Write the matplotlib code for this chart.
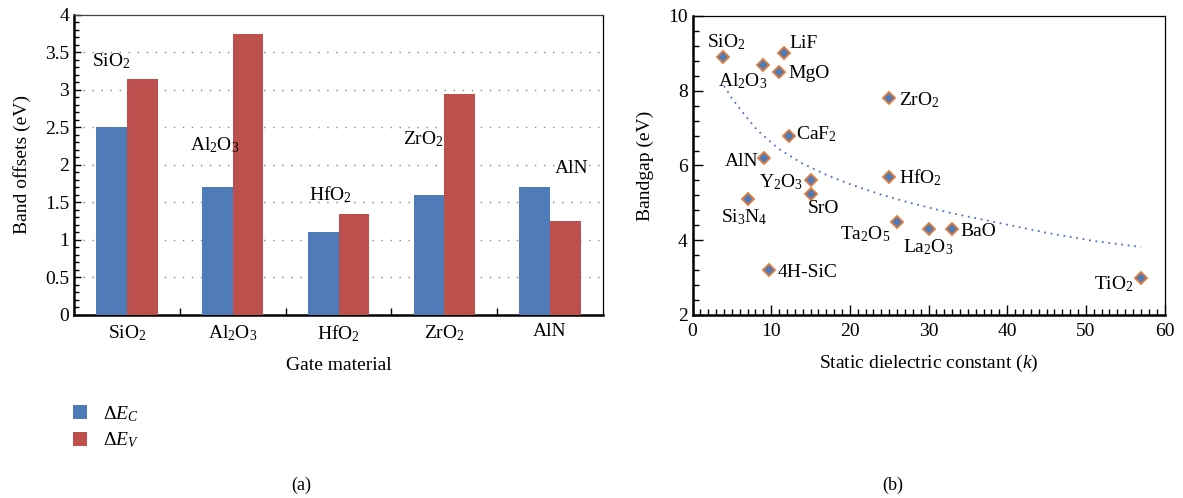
import matplotlib
matplotlib.use('Agg')
import matplotlib.pyplot as plt
from matplotlib.ticker import MultipleLocator, FixedLocator, FormatStrFormatter
import numpy as np

plt.rcParams['font.family'] = ['Liberation Serif', 'DejaVu Serif']
plt.rcParams['mathtext.fontset'] = 'custom'
plt.rcParams['mathtext.rm'] = 'Liberation Serif'
plt.rcParams['mathtext.it'] = 'Liberation Serif:italic'
plt.rcParams['font.size'] = 14

FS = 14

# (a) band offsets
mats = [r'SiO$_2$', r'Al$_2$O$_3$', r'HfO$_2$', r'ZrO$_2$', 'AlN']
dEc = [2.50, 1.70, 1.10, 1.60, 1.70]
dEv = [3.15, 3.75, 1.35, 2.95, 1.25]
# label positions (category units, eV baseline)
lab_a_x = [-0.33, 0.60, 1.72, 2.61, 4.04]
lab_a_y = [3.31, 2.20, 1.53, 2.28, 1.89]

# (b) bandgap vs k
names = [r'SiO$_2$', r'Al$_2$O$_3$', 'LiF', 'MgO', r'ZrO$_2$', r'CaF$_2$', 'AlN',
         r'HfO$_2$', r'Y$_2$O$_3$', 'SrO', r'Si$_3$N$_4$', r'Ta$_2$O$_5$',
         r'La$_2$O$_3$', 'BaO', '4H-SiC', r'TiO$_2$']
kval = [3.9, 9.0, 11.6, 11.0, 25.0, 12.3, 9.1, 25.0, 15.0, 15.0, 7.0, 26.0,
        30.0, 33.0, 9.7, 57.0]
gap = [8.9, 8.7, 9.0, 8.5, 7.8, 6.8, 6.2, 5.7, 5.6, 5.25, 5.1, 4.5,
       4.3, 4.3, 3.2, 3.0]
# label anchor (k, eV baseline, alignment)
lab_b_x = [1.9, 3.2, 12.3, 12.2, 26.2, 13.2, 8.35, 26.2, 14.05, 14.7, 3.65,
           18.7, 26.8, 34.1, 10.85, 56.1]
lab_b_y = [9.15, 8.13, 9.15, 8.33, 7.62, 6.71, 5.99, 5.52, 5.41, 4.72, 4.47,
           4.02, 3.69, 4.11, 3.02, 2.69]
lab_b_ha = ['left', 'left', 'left', 'left', 'left', 'left', 'right', 'left',
            'right', 'left', 'left', 'left', 'left', 'left', 'left', 'right']

# dotted trend line
fit_k = [4, 5, 6.3, 8.2, 10.9, 14, 17, 20, 24, 28, 33, 39, 45, 51, 57]
fit_g = [8.13, 7.8, 7.44, 6.95, 6.45, 6.05, 5.75, 5.5, 5.22, 4.98, 4.72,
         4.46, 4.2, 3.98, 3.82]

blue = '#4f7cb8'
red = '#bd4f4c'

fig = plt.figure(figsize=(11.83, 4.98), dpi=100)
ax1 = fig.add_axes([0.0626, 0.3675, 0.4471, 0.6024])
ax2 = fig.add_axes([0.5854, 0.3675, 0.3990, 0.6004])

# ---- panel (a)
x = np.arange(len(mats))
w = 0.29
b1 = ax1.bar(x - w, dEc, w, align='edge', color=blue, zorder=3, label=r'$\Delta E_C$')
b2 = ax1.bar(x, dEv, w, align='edge', color=red, zorder=3, label=r'$\Delta E_V$')
ax1.set_xlim(-0.5, 4.5)
ax1.set_ylim(0, 4)
ax1.yaxis.set_major_locator(MultipleLocator(0.5))
ax1.yaxis.set_minor_locator(MultipleLocator(0.1))
ax1.yaxis.set_major_formatter(FormatStrFormatter('%g'))
ax1.set_xticks(x)
ax1.set_xticklabels(mats)
ax1.xaxis.set_minor_locator(FixedLocator([0.5, 1.5, 2.5, 3.5]))
for yy in np.arange(0.5, 4.0, 0.5):
    ax1.axhline(yy, color='#888888', lw=1.0, ls=(0, (1, 5.5)), zorder=1)
ax1.tick_params(which='both', direction='in', labelsize=FS)
ax1.tick_params(which='major', length=5, width=1)
ax1.tick_params(which='minor', length=3.5, width=1)
ax1.tick_params(axis='x', which='both', length=5, pad=6)
ax1.spines['left'].set_linewidth(1.8)
ax1.spines['bottom'].set_linewidth(1.8)
ax1.spines['top'].set_linewidth(0.9)
ax1.spines['right'].set_linewidth(0.9)
ax1.spines['top'].set_color('#444444')
ax1.set_xlabel('Gate material', fontsize=FS, labelpad=9)
ax1.set_ylabel('Band offsets (eV)', fontsize=FS, labelpad=10)
for i, m in enumerate(mats):
    ax1.text(lab_a_x[i], lab_a_y[i], m, fontsize=FS, ha='left', va='baseline', zorder=4)

fig.legend(handles=[b1, b2], loc='upper left', bbox_to_anchor=(0.047, 0.224),
           frameon=False, fontsize=14, handlelength=0.72, handleheight=0.72,
           handletextpad=0.8, labelspacing=0.35)

# ---- panel (b)
ax2.plot(fit_k, fit_g, color='#4a6fc4', lw=1.3, ls=(0, (1, 2.6)), zorder=2)
ax2.plot(kval, gap, ls='none', marker='D', ms=6.0, mfc=blue, mec='#e07b3a',
         mew=1.3, zorder=3)
for i, n in enumerate(names):
    ax2.text(lab_b_x[i], lab_b_y[i], n, fontsize=FS, ha=lab_b_ha[i], va='baseline', zorder=4)
ax2.set_xlim(0, 60)
ax2.set_ylim(2, 10)
ax2.xaxis.set_major_locator(MultipleLocator(10))
ax2.xaxis.set_minor_locator(MultipleLocator(1))
ax2.yaxis.set_major_locator(MultipleLocator(2))
ax2.yaxis.set_minor_locator(MultipleLocator(0.4))
ax2.tick_params(which='both', direction='in', labelsize=FS)
ax2.tick_params(which='major', length=7, width=1)
ax2.tick_params(which='minor', length=4, width=1)
ax2.tick_params(axis='x', pad=6)
ax2.spines['left'].set_linewidth(1.8)
ax2.spines['bottom'].set_linewidth(1.8)
ax2.spines['top'].set_linewidth(0.9)
ax2.spines['right'].set_linewidth(0.9)
ax2.set_xlabel('Static dielectric constant ($k$)', fontsize=FS, labelpad=9)
ax2.set_ylabel('Bandgap (eV)', fontsize=FS, labelpad=10)

fig.text(0.2545, 0.026, '(a)', fontsize=13, ha='center', va='center')
fig.text(0.755, 0.026, '(b)', fontsize=13, ha='center', va='center')

plt.savefig('out.png', dpi=100)
